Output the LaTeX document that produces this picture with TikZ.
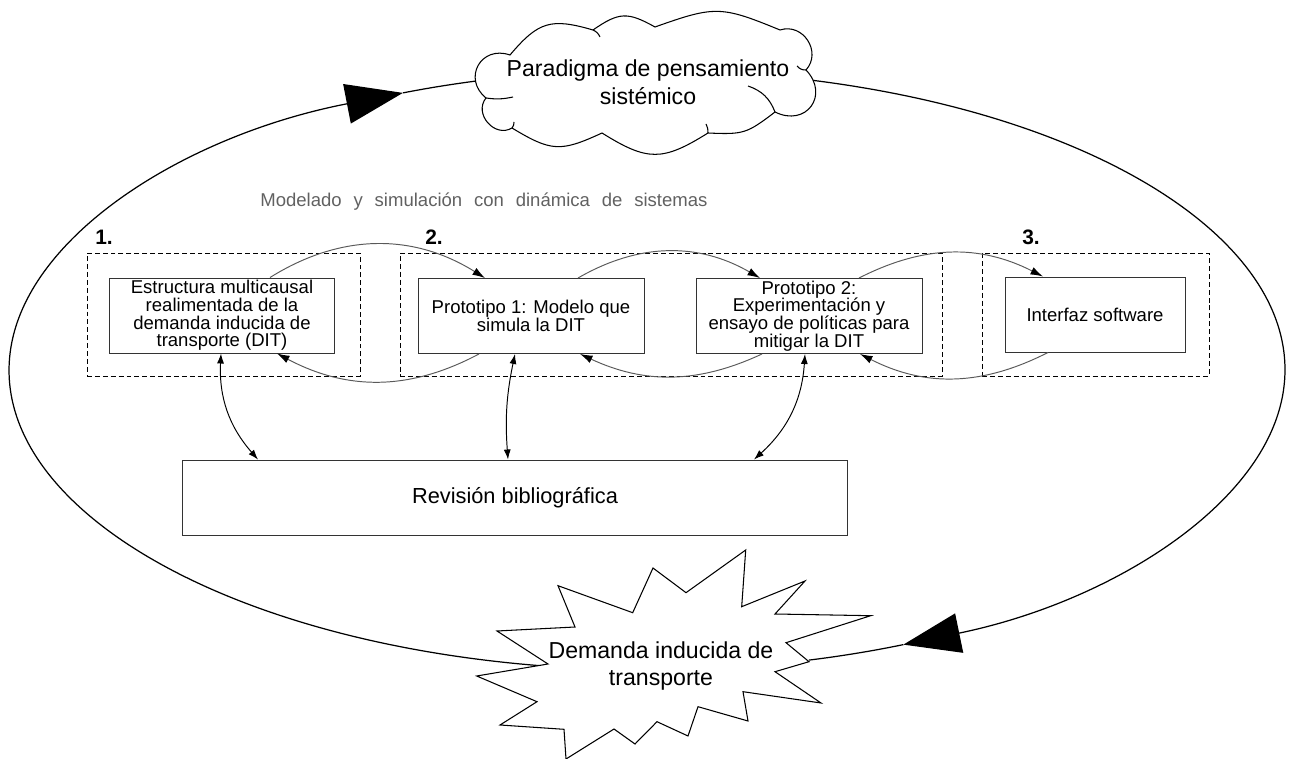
\documentclass[tikz,border=0pt]{standalone}
\usepackage{fontspec}
\setmainfont{Liberation Sans}
\newfontfamily\spacedfont[WordSpace=2.3]{Liberation Sans}
\usetikzlibrary{arrows.meta,calc}

\begin{document}
\begin{tikzpicture}[x=0.02cm,y=-0.02cm,
  procbox/.style={draw=black!80, line width=0.55pt, fill=white, align=center,
    inner sep=0pt, minimum height=1.5cm, font=\fontsize{10.55}{10.1}\selectfont},
  groupbox/.style={draw, line width=0.5pt, dash pattern=on 2.8pt off 1.7pt,
    inner sep=0pt, minimum height=2.46cm},
  loopflow/.style={draw=black!65, line width=0.55pt,
    -{Latex[length=2.5mm,width=1.6mm,black]}},
  biblink/.style={draw=black, line width=0.55pt,
    {Latex[length=2mm,width=1.4mm]}-{Latex[length=2mm,width=1.4mm]}},
  bigloop/.style={line width=0.7pt},
  bighead/.style={-{Triangle[length=11.4mm,width=8mm]}},
  num/.style={font=\fontsize{11.9}{12}\selectfont\bfseries, anchor=base west, inner sep=0pt},
  bigtext/.style={align=center, inner sep=0pt, font=\fontsize{13.15}{16.2}\selectfont},
  puff/.style 2 args={bend left=#1, looseness=#2},
  curl/.style={line width=0.6pt},
]
\useasboundingbox (0,0) rectangle (1291,759);

% outer feedback cycle (elliptical path split at the two large arrowheads)
\coordinate (E) at (647,370);
\coordinate (eL) at ([shift={(261:12.76cm and 6cm)}]E);
\coordinate (tipL) at ([shift={(112.5:12.76cm and 6cm)}]E);
\coordinate (eR) at ([shift={(80:12.76cm and 6cm)}]E);
\coordinate (tipR) at ([shift={(-66.3:12.76cm and 6cm)}]E);
\draw[bigloop, bighead] (eL) arc[start angle=261, end angle=112.5, x radius=12.76cm, y radius=6cm];
\draw[bigloop] (tipL) arc[start angle=112.5, end angle=100, x radius=12.76cm, y radius=6cm];
\draw[bigloop, bighead] (eR) arc[start angle=80, end angle=-66.3, x radius=12.76cm, y radius=6cm];
\draw[bigloop] (tipR) arc[start angle=-66.3, end angle=-75.3, x radius=12.76cm, y radius=6cm];

% paradigm cloud: puffs between cusp points, plus the inner curls
\draw[line width=0.6pt, fill=white]
  (486,98) to[puff={80}{1.6}] (510,55) to[puff={33}{1.3}] (593,30)
  to[puff={32}{1.3}] (655,27) to[puff={21}{1.3}] (780,30)
  to[puff={75}{1.3}] (806,70) to[puff={80}{1.7}] (775,112)
  to[puff={20}{1.3}] (708,133) to[puff={32}{1.3}] (602,133)
  to[puff={28}{1.3}] (512,128) to[puff={80}{1.3}] (486,98) -- cycle;
\draw[curl] (486,98) to[bend right=10] (513,97);
\draw[curl] (593,30) to[bend left=20] (600,37);
\draw[curl] (806,70) to[bend left=25] (797,66);
\draw[curl] (748,86) to[bend left=25] (775,112);
\draw[curl] (708,133) to[bend right=15] (706,124);
\draw[curl] (512,128) to[bend right=20] (514,122);
\node[bigtext] (cloud) at (648,82.5) {Paradigma de pensamiento\\sistémico};

% induced demand burst
\draw[line width=0.6pt, fill=white] (745.7,550) -- (741.7,606.7) -- (805,581) -- (775,614)
  -- (870.7,615.7) -- (786,642.7) -- (809,661.7) -- (775,671.7) -- (821,703)
  -- (743,691.7) -- (748,721) -- (698,706.7) -- (688,736) -- (657,721.7)
  -- (635,744) -- (614,729) -- (566,759) -- (564,729.3) -- (500,725)
  -- (537,701.7) -- (476.7,676) -- (548,664) -- (497,631) -- (575,627)
  -- (558,585.7) -- (632.7,612.7) -- (653,568) -- (686,592.7) -- cycle;
\node[bigtext, font=\fontsize{13.15}{15.9}\selectfont] (star) at (661,666)
  {Demanda inducida de\\transporte};

% headings
\node[anchor=base west, inner sep=0pt, text=black!62,
  font=\spacedfont\fontsize{10.55}{12}\selectfont] (title) at (260,207)
  {Modelado y simulación con dinámica de sistemas};
\node[num] (n1) at (95,245) {1.};
\node[num] (n2) at (425,245) {2.};
\node[num] (n3) at (1022,245) {3.};

% stage groups
\node[groupbox, minimum width=5.46cm] (g1) at (223.5,314.5) {};
\node[groupbox, minimum width=10.84cm] (g2) at (671,314.5) {};
\node[groupbox, minimum width=4.54cm] (g3) at (1095.5,314.5) {};

% process boxes
\node[procbox, minimum width=4.52cm] (b1) at (222,315.5)
  {Estructura multicausal\\realimentada de la\\demanda inducida de\\transporte (DIT)};
\node[procbox, minimum width=4.52cm] (b2) at (531,316)
  {Prototipo 1: Modelo que\\simula la DIT};
\node[procbox, minimum width=4.52cm] (b3) at (809,316)
  {Prototipo 2:\\Experimentación y\\ensayo de políticas para\\mitigar la DIT};
\node[procbox, minimum width=3.6cm] (b4) at (1095,314.5) {Interfaz software};
\node[procbox, minimum width=13.32cm, font=\fontsize{12.4}{14}\selectfont] (rev) at (515,497.5)
  {Revisión bibliográfica};

% iteration loops between stages
\draw[loopflow] ($(b1.north)+(48,0)$) to[out=32,in=148] ($(b2.north)+(-46,0)$);
\draw[loopflow] ($(b2.south)+(-52,0)$) to[out=-152,in=-28] ($(b1.south)+(55,0)$);
\draw[loopflow] ($(b2.north)+(47,0)$) to[out=30,in=150] ($(b3.north)+(-49,0)$);
\draw[loopflow] ($(b3.south)+(-47,0)$) to[out=-155,in=-25] ($(b2.south)+(49,0)$);
\draw[loopflow] ($(b3.north)+(50,0)$) to[out=27,in=153] ($(b4.north)+(-52,0)$);
\draw[loopflow] ($(b4.south)+(-47,0)$) to[out=-153,in=-27] ($(b3.south)+(51,0)$);

% links with the literature review
\draw[biblink] ($(b1.south)+(-1,0)$) to[bend right=22] ($(rev.north)+(-257,0)$);
\draw[biblink] ($(b2.south)+(-16,0)$) to[bend right=8] ($(rev.north)+(-7,0)$);
\draw[biblink] ($(b3.south)+(-4,0)$) to[bend left=22] ($(rev.north)+(239,0)$);
\end{tikzpicture}
\end{document}
